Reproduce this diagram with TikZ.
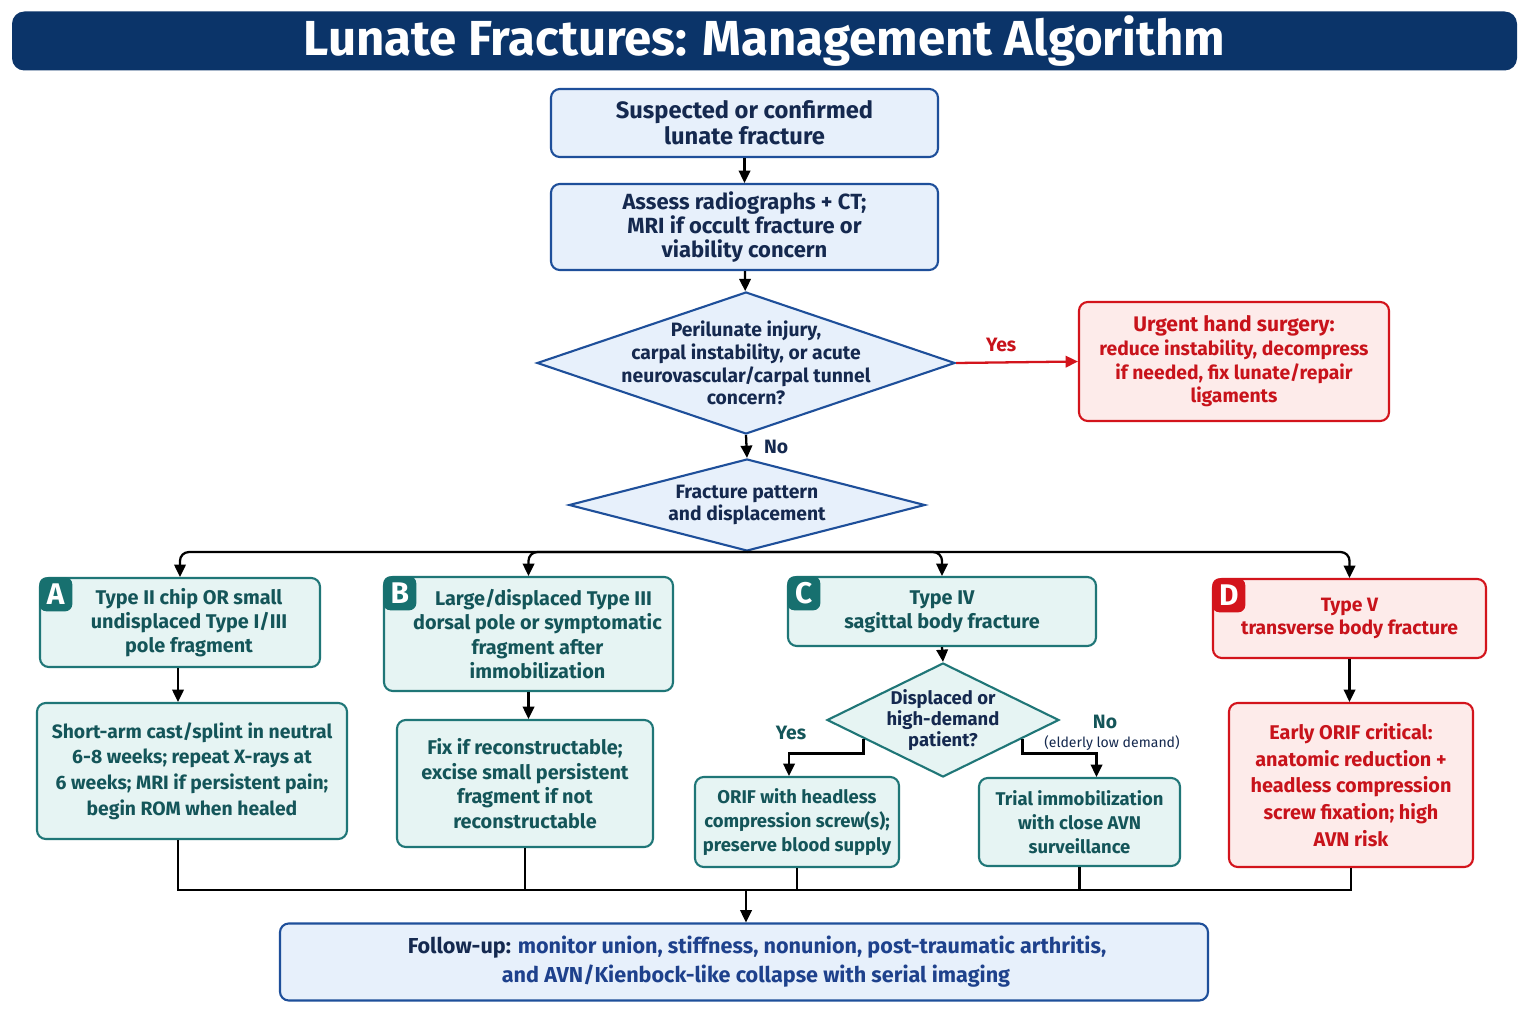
\documentclass[tikz,border=0pt]{standalone}
\usepackage{fontspec}
\setmainfont{Fira Sans}
\usetikzlibrary{shapes.geometric,arrows.meta,calc}

\definecolor{navy}{HTML}{0B3469}
\definecolor{blueline}{HTML}{1E4F9A}
\definecolor{bluefill}{HTML}{E7F0FB}
\definecolor{bluetext}{HTML}{15294F}
\definecolor{tealline}{HTML}{1F7677}
\definecolor{tealfill}{HTML}{E6F4F3}
\definecolor{tealtext}{HTML}{145559}
\definecolor{tealbadge}{HTML}{17706F}
\definecolor{redline}{HTML}{D3141C}
\definecolor{redfill}{HTML}{FDEBEA}
\definecolor{redtext}{HTML}{C8131B}
\definecolor{futext}{HTML}{1E418C}

\newdimen\pxu \pxu=0.02cm
\newcommand{\fs}[2]{\fontsize{#1}{#2}\selectfont}

\tikzset{
	line/.style = {line width=1.3pt, black},
	arr/.style = {line, -{Triangle[length=7pt,width=6.5pt]}},
	box/.style = {line width=1.2pt, rounded corners=5pt, align=center, inner sep=0pt, font=\bfseries\fs{12.5}{13.6}},
	bluebox/.style = {box, draw=blueline, fill=bluefill, text=bluetext},
	tealbox/.style = {box, draw=tealline, fill=tealfill, text=tealtext, font=\bfseries\fs{11.3}{13.8}},
	redbox/.style = {box, draw=redline, fill=redfill, text=redtext, font=\bfseries\fs{11}{13.5}},
	dia/.style = {diamond, line width=1.2pt, inner sep=0pt},
	diatext/.style = {align=center, text=bluetext, font=\bfseries\fs{11}{12.9}},
	badge/.style = {anchor=north west, inner sep=0pt, minimum width=33\pxu, minimum height=34\pxu,
		rounded corners=4pt, text=white, font=\bfseries\fs{17}{17}},
	lbl/.style = {font=\bfseries\fs{11}{13}},
}

\begin{document}
\begin{tikzpicture}[x=0.02cm, y=-0.02cm]
	\useasboundingbox[fill=white] (0,0) rectangle (1536,1024);

	% title
	\node[fill=navy, rounded corners=7pt, minimum width=1505\pxu, minimum height=59\pxu, inner sep=0pt,
		text=white, font=\bfseries\fs{28}{28}] (title) at (764.5,41) {Lunate Fractures: Management Algorithm};

	% top of the algorithm
	\node[bluebox, minimum width=387\pxu, minimum height=68\pxu, font=\bfseries\fs{13.5}{14.7}] (start) at (744.5,123)
		{Suspected or confirmed\\ lunate fracture};
	\node[bluebox, minimum width=387\pxu, minimum height=86\pxu] (assess) at (744.5,227)
		{Assess radiographs + CT;\\ MRI if occult fracture or\\ viability concern};
	\node[dia, draw=blueline, fill=bluefill, minimum width=418\pxu, minimum height=142\pxu] (q1) at (746,363) {};
	\node[diatext] (q1t) at (q1) {Perilunate injury,\\ carpal instability, or acute\\ neurovascular/carpal tunnel\\ concern?};
	\node[redbox, minimum width=310\pxu, minimum height=119\pxu] (urgent) at (1234,361.5)
		{\fs{12}{13.5}Urgent hand surgery:\\ reduce instability, decompress\\ if needed, fix lunate/repair\\ ligaments};
	\node[dia, draw=blueline, fill=bluefill, minimum width=356\pxu, minimum height=92\pxu] (q2) at (747,505) {};
	\node[diatext] (q2t) at (q2) {Fracture pattern\\ and displacement};

	% fracture types
	\node[tealbox, minimum width=280\pxu, minimum height=89\pxu] (tA) at (180,622.5)
		{\hspace*{18\pxu}Type II chip OR small\\ \hspace*{18\pxu}undisplaced Type I/III\\ \hspace*{18\pxu}pole fragment};
	\node[tealbox, minimum width=289\pxu, minimum height=114\pxu] (tB) at (528.5,634)
		{\hspace*{30\pxu}Large/displaced Type III\\ \hspace*{18\pxu}dorsal pole or symptomatic\\ \hspace*{18\pxu}fragment after\\ \hspace*{18\pxu}immobilization};
	\node[tealbox, minimum width=308\pxu, minimum height=69\pxu] (tC) at (942,611.5)
		{Type IV\\ sagittal body fracture};
	\node[redbox, minimum width=273\pxu, minimum height=79\pxu] (tD) at (1349.5,618.5)
		{Type V\\ transverse body fracture};
	\node[badge, fill=tealbadge] (bA) at (tA.north west) {A};
	\node[badge, fill=tealbadge] (bB) at (tB.north west) {B};
	\node[badge, fill=tealbadge] (bC) at (tC.north west) {C};
	\node[badge, fill=redline] (bD) at (tD.north west) {D};

	% treatment
	\node[tealbox, minimum width=310\pxu, minimum height=136\pxu, font=\bfseries\fs{11}{14.7}] (sA) at (192,771)
		{Short-arm cast/splint in neutral\\ 6-8 weeks; repeat X-rays at\\ 6 weeks; MRI if persistent pain;\\ begin ROM when healed};
	\node[tealbox, minimum width=256\pxu, minimum height=127\pxu, font=\bfseries\fs{11.3}{14}] (sB) at (525,783.5)
		{Fix if reconstructable;\\ excise small persistent\\ fragment if not\\ reconstructable};
	\node[dia, draw=tealline, fill=tealfill, minimum width=232\pxu, minimum height=114\pxu] (q3) at (943,720) {};
	\node[diatext, font=\bfseries\fs{10.5}{12.2}] (q3t) at (q3) {Displaced or\\ high-demand\\ patient?};
	\node[tealbox, minimum width=204\pxu, minimum height=90\pxu, font=\bfseries\fs{10.5}{13.5}] (orif) at (797,822)
		{ORIF with headless\\ compression screw(s);\\ preserve blood supply};
	\node[tealbox, minimum width=201\pxu, minimum height=88\pxu, font=\bfseries\fs{10.5}{13.5}] (trial) at (1079.5,822)
		{Trial immobilization\\ with close AVN\\ surveillance};
	\node[redbox, minimum width=244\pxu, minimum height=164\pxu, font=\bfseries\fs{11.3}{15.3}] (sD) at (1351,785)
		{Early ORIF critical:\\ anatomic reduction +\\ headless compression\\ screw fixation; high\\ AVN risk};

	% follow-up
	\node[bluebox, minimum width=928\pxu, minimum height=77\pxu, font=\bfseries\fs{12.3}{16.5}, text=futext] (fu) at (744,962)
		{\hspace*{26\pxu}\textcolor{bluetext}{Follow-up:} monitor union, stiffness, nonunion, post-traumatic arthritis,\\ \hspace*{24\pxu}and AVN/Kienbock-like collapse with serial imaging};

	% connectors
	\draw[arr] (start) -- (assess);
	\draw[arr] (assess) -- (q1);
	\draw[arr, redline] (q1.east) -- (urgent.west) node[lbl, text=redtext, pos=0.37, above=2pt] (yes1) {Yes};
	\draw[arr] (q1.south) -- (q2.north) node[lbl, text=bluetext, midway, right=6pt] (no1) {No};
	\draw[arr, rounded corners=5pt] (q2.south) -| (tA.north);
	\draw[arr, rounded corners=5pt] (q2.south) -| (tB.north);
	\draw[arr, rounded corners=5pt] (q2.south) -| (tC.north);
	\draw[arr, rounded corners=5pt] (q2.south) -| (tD.north);
	\draw[arr] (tA.south -| 178,0) -- (sA.north -| 178,0);
	\draw[arr] (tB.south) -- (tB.south |- sB.north);
	\draw[arr] (tC.south) -- (q3.north);
	\draw[arr] (tD.south) -- (tD.south |- sD.north);
	\draw[arr] ($(q3.west)!0.32!(q3.south)$) -- ++(0,15) -| ([xshift=-8\pxu]orif.north);
	\draw[arr] ($(q3.east)!0.32!(q3.south)$) -- ++(0,15) -| ([xshift=17\pxu]trial.north);
	\node[lbl, text=tealtext] (yes3) at (791,733) {Yes};
	\node[lbl, text=tealtext] (no3) at (1105,722) {No};
	\node[font=\fs{8}{9}, text=bluetext] (no3note) at (1112,743) {(elderly low demand)};

	% everything back to follow-up
	\coordinate (join) at (746,890);
	\draw[line] (sA.south -| 178,0) |- (join);
	\draw[line] (sB.south) |- (join);
	\draw[line] (orif.south) |- (join);
	\draw[line] (trial.south) |- (join);
	\draw[line] (sD.south) |- (join);
	\draw[arr] (join) -- (join |- fu.north);
\end{tikzpicture}
\end{document}
